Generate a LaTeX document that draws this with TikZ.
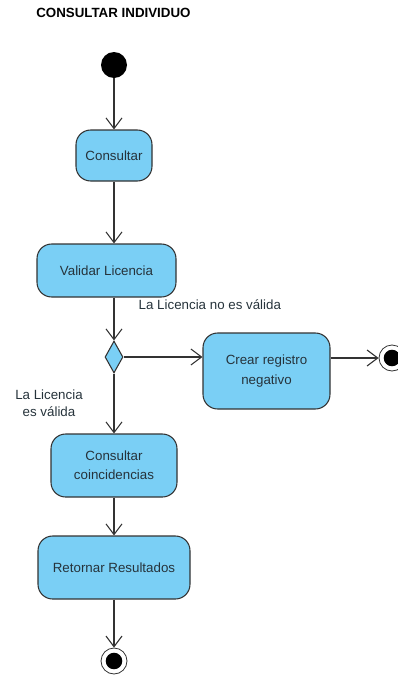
\documentclass[tikz,border=0pt]{standalone}
\usepackage{fontspec}
\setmainfont{Liberation Sans}
\usetikzlibrary{arrows.meta,shapes.geometric}
\definecolor{actBlue}{HTML}{7ACFF5}
\definecolor{edgeGray}{HTML}{333333}
\definecolor{txtDark}{HTML}{26333B}

\tikzset{
  act/.style={draw=edgeGray,fill=actBlue,line width=.8pt,rounded corners=11pt,
    align=center,inner sep=2pt,text=txtDark,font=\fontsize{10}{14.5}\selectfont},
  flow/.style={draw=edgeGray,line width=.8pt,-{Straight Barb[length=8pt,width=12pt]}},
  startdot/.style={circle,fill=black,minimum size=19.5pt,inner sep=0pt},
  enddot/.style={circle,draw=edgeGray,fill=white,line width=.6pt,minimum size=19.5pt,inner sep=0pt,
    path picture={\fill[black] (path picture bounding box.center) circle (6.2pt);}},
  lbl/.style={text=txtDark,font=\fontsize{10}{13}\selectfont,align=center}
}

\begin{document}
\begin{tikzpicture}[x=.75pt,y=-.75pt]
  \useasboundingbox (0,0) rectangle (397,675);
  \node[anchor=west,inner sep=0pt,font=\bfseries\fontsize{10}{12}\selectfont] (title) at (36,13) {CONSULTAR INDIVIDUO};

  \node[startdot] (inicio) at (114,65) {};
  \node[act,minimum width=57pt,minimum height=38.25pt] (consultar) at (114,155.5) {Consultar};
  \node[act,minimum width=104.25pt,minimum height=39.75pt] (validar) at (106.5,270.5) {Validar Licencia};
  \node[diamond,draw=edgeGray,fill=actBlue,line width=.8pt,minimum width=13.5pt,minimum height=24pt,inner sep=0pt] (decision) at (114,357) {};
  \node[act,minimum width=95.25pt,minimum height=57pt] (crear) at (266.5,371) {Crear registro\\negativo};
  \node[enddot] (finNeg) at (392,358) {};
  \node[act,minimum width=94.5pt,minimum height=47.25pt] (coincidencias) at (114,465.5) {Consultar\\coincidencias};
  \node[act,minimum width=114pt,minimum height=47.25pt] (retornar) at (114,567.5) {Retornar Resultados};
  \node[enddot] (fin) at (114,661) {};

  \node[lbl,anchor=west] (noValida) at (134,305) {La Licencia no es válida};
  \node[lbl] (valida) at (49,403) {La Licencia\\es válida};

  \draw[flow] (inicio) -- (consultar);
  \draw[flow] (consultar) -- (consultar |- validar.north);
  \draw[flow] (validar.south -| decision) -- (decision);
  \draw[flow] (decision) -- (crear.west |- decision);
  \draw[flow] (crear.east |- finNeg) -- (finNeg);
  \draw[flow] (decision) -- (coincidencias);
  \draw[flow] (coincidencias) -- (retornar);
  \draw[flow] (retornar) -- (fin);
\end{tikzpicture}
\end{document}
